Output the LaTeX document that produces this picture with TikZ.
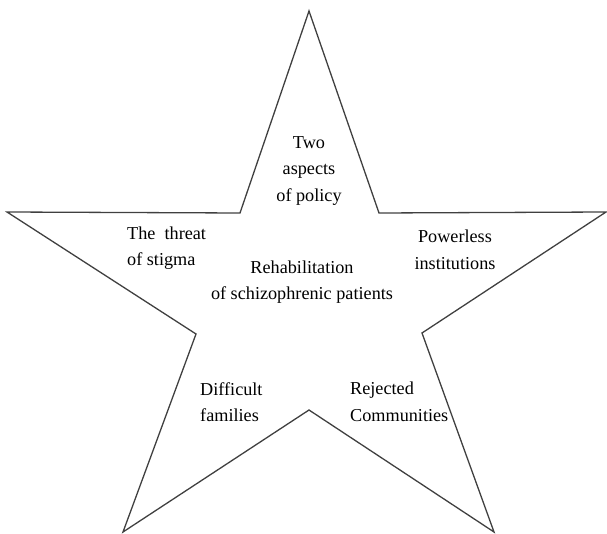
\documentclass[tikz,border=0pt]{standalone}
\usepackage{fontspec}
\setmainfont{Liberation Serif}
\usetikzlibrary{positioning}

\begin{document}
\begin{tikzpicture}[x=1pt, y=-1pt,
        label/.style={inner sep=0pt, font=\fontsize{18.2}{26.5}\selectfont}
    ]
      \useasboundingbox (0,0) rectangle (607,534);

      % Star outline
      \coordinate (top) at (309,11);
      \coordinate (innerNE) at (379,213);
      \coordinate (right) at (606,212);
      \coordinate (innerE) at (422,333);
      \coordinate (lowRight) at (494,532);
      \coordinate (innerS) at (309,410);
      \coordinate (lowLeft) at (123,532);
      \coordinate (innerW) at (196,334);
      \coordinate (left) at (7,212);
      \coordinate (innerNW) at (240,213);
      \draw[black!75, line width=1.3pt, line join=miter]
        (top) -- (innerNE) -- (right) -- (innerE) -- (lowRight) -- (innerS)
        -- (lowLeft) -- (innerW) -- (left) -- (innerNW) -- cycle;

      % Labels
      \node[label, align=center] (policy) at (309,171) {Two\\aspects\\of policy};
      \node[label, align=left, anchor=west] (stigma) at (127,248) {The\ \ threat\\of stigma};
      \node[label, align=center] (core) at (302,282) {Rehabilitation\\of schizophrenic patients};
      \node[label, align=center] (institutions) at (455,250) {Powerless\\institutions};
      \node[label, align=left, anchor=west] (families) at (200,402) {Difficult\\families};
      \node[label, align=left, anchor=west] (communities) at (350,402) {Rejected\\Communities};
    \end{tikzpicture}
\end{document}
